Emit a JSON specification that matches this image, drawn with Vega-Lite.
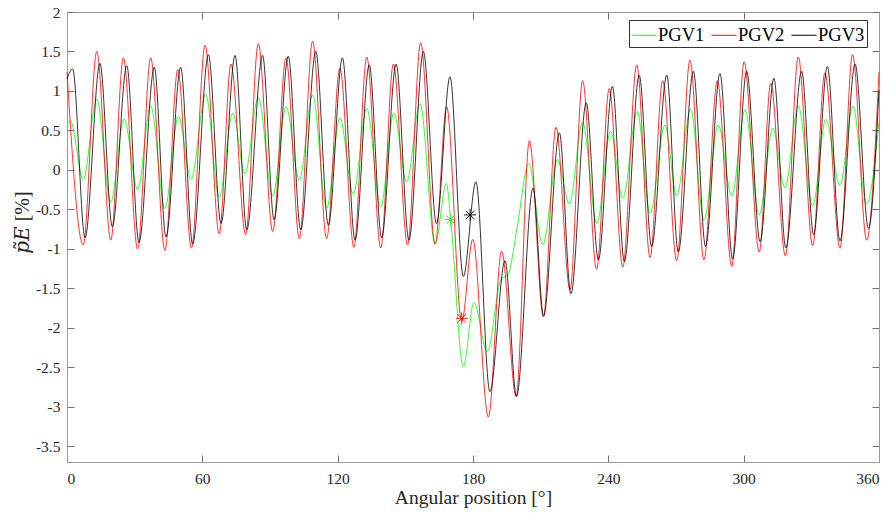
{
  "$schema": "https://vega.github.io/schema/vega-lite/v6.json",
  "width": 812,
  "height": 450,
  "autosize": "none",
  "padding": {"left": 67, "top": 12, "right": 17, "bottom": 51},
  "background": "white",
  "config": {
    "font": "'Liberation Serif', 'DejaVu Serif', serif",
    "view": {"stroke": "#9a9a9a", "strokeWidth": 1},
    "axis": {
      "domainColor": "#9a9a9a",
      "tickColor": "#707070",
      "tickSize": -7,
      "grid": false,
      "labelFont": "'Liberation Serif', 'DejaVu Serif', serif",
      "titleFont": "'Liberation Serif', 'DejaVu Serif', serif",
      "labelColor": "#262626",
      "titleColor": "#262626",
      "titleFontWeight": "normal"
    },
    "legend": {
      "labelFont": "'Liberation Serif', 'DejaVu Serif', serif"
    }
  },
  "datasets": {
    "curves": [
      {"s":"PGV1","x":0,"y":0.58},{"s":"PGV1","x":1.5,"y":0.62},{"s":"PGV1","x":7.2,"y":-0.12},{"s":"PGV1","x":13.2,"y":0.9},{"s":"PGV1","x":19.4,"y":-0.41},{"s":"PGV1","x":25.3,"y":0.65},{"s":"PGV1","x":31.3,"y":-0.25},{"s":"PGV1","x":37.1,"y":0.81},{"s":"PGV1","x":43.4,"y":-0.49},{"s":"PGV1","x":49.4,"y":0.68},{"s":"PGV1","x":55,"y":-0.12},{"s":"PGV1","x":61.5,"y":0.96},{"s":"PGV1","x":67.5,"y":-0.35},{"s":"PGV1","x":73.5,"y":0.72},{"s":"PGV1","x":78.9,"y":-0.05},{"s":"PGV1","x":84.8,"y":0.92},{"s":"PGV1","x":91.2,"y":-0.33},{"s":"PGV1","x":97.1,"y":0.8},{"s":"PGV1","x":103,"y":-0.13},{"s":"PGV1","x":108.9,"y":0.95},{"s":"PGV1","x":115.1,"y":-0.49},{"s":"PGV1","x":121,"y":0.66},{"s":"PGV1","x":126.9,"y":-0.31},{"s":"PGV1","x":132.9,"y":0.78},{"s":"PGV1","x":139.1,"y":-0.47},{"s":"PGV1","x":144.9,"y":0.72},{"s":"PGV1","x":150.6,"y":-0.15},{"s":"PGV1","x":156.5,"y":0.84},{"s":"PGV1","x":163.2,"y":-0.94},{"s":"PGV1","x":168.2,"y":-0.17},{"s":"PGV1","x":170.1,"y":-0.63},{"s":"PGV1","x":175.7,"y":-2.49},{"s":"PGV1","x":180.4,"y":-1.68},{"s":"PGV1","x":186.3,"y":-2.3},{"s":"PGV1","x":192.5,"y":-1.38},{"s":"PGV1","x":195.5,"y":-1.33},{"s":"PGV1","x":199.4,"y":-0.76},{"s":"PGV1","x":204.7,"y":0.08},{"s":"PGV1","x":210.9,"y":-0.95},{"s":"PGV1","x":217.4,"y":0.13},{"s":"PGV1","x":222.7,"y":-0.43},{"s":"PGV1","x":228.6,"y":0.6},{"s":"PGV1","x":234.9,"y":-0.68},{"s":"PGV1","x":241,"y":0.49},{"s":"PGV1","x":246.4,"y":-0.36},{"s":"PGV1","x":252.8,"y":0.74},{"s":"PGV1","x":258.5,"y":-0.55},{"s":"PGV1","x":265.1,"y":0.57},{"s":"PGV1","x":270.3,"y":-0.33},{"s":"PGV1","x":276.5,"y":0.77},{"s":"PGV1","x":282.4,"y":-0.64},{"s":"PGV1","x":288.7,"y":0.57},{"s":"PGV1","x":294.7,"y":-0.33},{"s":"PGV1","x":300.6,"y":0.76},{"s":"PGV1","x":306.9,"y":-0.57},{"s":"PGV1","x":312.9,"y":0.53},{"s":"PGV1","x":318.3,"y":-0.23},{"s":"PGV1","x":324.2,"y":0.81},{"s":"PGV1","x":330.6,"y":-0.46},{"s":"PGV1","x":336.4,"y":0.64},{"s":"PGV1","x":342.7,"y":-0.2},{"s":"PGV1","x":348.4,"y":0.81},{"s":"PGV1","x":354.5,"y":-0.43},{"s":"PGV1","x":360,"y":0.61},
      {"s":"PGV2","x":0,"y":1.24},{"s":"PGV2","x":7.2,"y":-0.95},{"s":"PGV2","x":13.2,"y":1.5},{"s":"PGV2","x":19.4,"y":-0.89},{"s":"PGV2","x":25,"y":1.42},{"s":"PGV2","x":31.3,"y":-1.0},{"s":"PGV2","x":37.1,"y":1.42},{"s":"PGV2","x":43.4,"y":-1.02},{"s":"PGV2","x":49.1,"y":1.27},{"s":"PGV2","x":55.2,"y":-0.99},{"s":"PGV2","x":61.2,"y":1.58},{"s":"PGV2","x":67.5,"y":-0.81},{"s":"PGV2","x":72.7,"y":1.34},{"s":"PGV2","x":79.2,"y":-0.82},{"s":"PGV2","x":84.8,"y":1.6},{"s":"PGV2","x":91.2,"y":-0.78},{"s":"PGV2","x":97.1,"y":1.42},{"s":"PGV2","x":103,"y":-0.87},{"s":"PGV2","x":108.9,"y":1.63},{"s":"PGV2","x":115.1,"y":-0.87},{"s":"PGV2","x":121,"y":1.29},{"s":"PGV2","x":127.2,"y":-0.98},{"s":"PGV2","x":132.9,"y":1.43},{"s":"PGV2","x":139.1,"y":-0.99},{"s":"PGV2","x":144.7,"y":1.34},{"s":"PGV2","x":151,"y":-0.95},{"s":"PGV2","x":156.8,"y":1.61},{"s":"PGV2","x":163.2,"y":-0.94},{"s":"PGV2","x":168.3,"y":0.8},{"s":"PGV2","x":175,"y":-1.92},{"s":"PGV2","x":179.9,"y":-0.88},{"s":"PGV2","x":186.8,"y":-3.13},{"s":"PGV2","x":192.7,"y":-1.03},{"s":"PGV2","x":199.1,"y":-2.87},{"s":"PGV2","x":205,"y":0.37},{"s":"PGV2","x":211.2,"y":-1.86},{"s":"PGV2","x":216.8,"y":0.54},{"s":"PGV2","x":223,"y":-1.52},{"s":"PGV2","x":228.6,"y":1.13},{"s":"PGV2","x":234.8,"y":-1.26},{"s":"PGV2","x":240.4,"y":1.03},{"s":"PGV2","x":246.4,"y":-1.23},{"s":"PGV2","x":252.6,"y":1.33},{"s":"PGV2","x":258.5,"y":-1.11},{"s":"PGV2","x":264.1,"y":1.13},{"s":"PGV2","x":270.3,"y":-1.15},{"s":"PGV2","x":276.2,"y":1.39},{"s":"PGV2","x":282.4,"y":-1.14},{"s":"PGV2","x":288.3,"y":1.13},{"s":"PGV2","x":294.7,"y":-1.22},{"s":"PGV2","x":300.2,"y":1.37},{"s":"PGV2","x":306.9,"y":-1.04},{"s":"PGV2","x":312,"y":1.1},{"s":"PGV2","x":318.5,"y":-1.09},{"s":"PGV2","x":324.2,"y":1.43},{"s":"PGV2","x":330.6,"y":-0.96},{"s":"PGV2","x":336,"y":1.23},{"s":"PGV2","x":342.7,"y":-0.99},{"s":"PGV2","x":348.3,"y":1.46},{"s":"PGV2","x":354.5,"y":-0.89},{"s":"PGV2","x":360,"y":1.24},
      {"s":"PGV3","x":0,"y":1.15},{"s":"PGV3","x":2.5,"y":1.28},{"s":"PGV3","x":8,"y":-0.86},{"s":"PGV3","x":14.6,"y":1.35},{"s":"PGV3","x":20.1,"y":-0.72},{"s":"PGV3","x":26.5,"y":1.32},{"s":"PGV3","x":31.9,"y":-0.92},{"s":"PGV3","x":38.7,"y":1.3},{"s":"PGV3","x":43.9,"y":-0.85},{"s":"PGV3","x":50.4,"y":1.3},{"s":"PGV3","x":55.7,"y":-0.94},{"s":"PGV3","x":62.7,"y":1.46},{"s":"PGV3","x":68.3,"y":-0.68},{"s":"PGV3","x":74.5,"y":1.45},{"s":"PGV3","x":79.7,"y":-0.76},{"s":"PGV3","x":86.7,"y":1.45},{"s":"PGV3","x":91.8,"y":-0.63},{"s":"PGV3","x":98.1,"y":1.44},{"s":"PGV3","x":103.6,"y":-0.76},{"s":"PGV3","x":110.3,"y":1.5},{"s":"PGV3","x":115.9,"y":-0.7},{"s":"PGV3","x":122.1,"y":1.42},{"s":"PGV3","x":127.7,"y":-0.89},{"s":"PGV3","x":134,"y":1.33},{"s":"PGV3","x":139.5,"y":-0.86},{"s":"PGV3","x":145.9,"y":1.34},{"s":"PGV3","x":151.6,"y":-0.89},{"s":"PGV3","x":158,"y":1.5},{"s":"PGV3","x":163.8,"y":-0.68},{"s":"PGV3","x":169.8,"y":1.18},{"s":"PGV3","x":175.7,"y":-1.35},{"s":"PGV3","x":181.3,"y":-0.15},{"s":"PGV3","x":187.5,"y":-2.81},{"s":"PGV3","x":194.2,"y":-1.15},{"s":"PGV3","x":199.3,"y":-2.87},{"s":"PGV3","x":206.6,"y":-0.23},{"s":"PGV3","x":211.3,"y":-1.85},{"s":"PGV3","x":218.3,"y":0.47},{"s":"PGV3","x":223.4,"y":-1.57},{"s":"PGV3","x":230.2,"y":0.85},{"s":"PGV3","x":235.6,"y":-1.14},{"s":"PGV3","x":241.8,"y":1.06},{"s":"PGV3","x":247.1,"y":-1.16},{"s":"PGV3","x":253.7,"y":1.2},{"s":"PGV3","x":259.2,"y":-0.97},{"s":"PGV3","x":265.9,"y":1.2},{"s":"PGV3","x":271,"y":-1.04},{"s":"PGV3","x":277.7,"y":1.25},{"s":"PGV3","x":283.1,"y":-0.97},{"s":"PGV3","x":289.5,"y":1.22},{"s":"PGV3","x":295.1,"y":-1.13},{"s":"PGV3","x":301.3,"y":1.25},{"s":"PGV3","x":307.3,"y":-0.91},{"s":"PGV3","x":313.4,"y":1.16},{"s":"PGV3","x":318.7,"y":-0.99},{"s":"PGV3","x":325.7,"y":1.25},{"s":"PGV3","x":331,"y":-0.82},{"s":"PGV3","x":337.1,"y":1.31},{"s":"PGV3","x":342.7,"y":-0.9},{"s":"PGV3","x":349.4,"y":1.34},{"s":"PGV3","x":355.3,"y":-0.74},{"s":"PGV3","x":360,"y":1.01}
    ],
    "stars": [
      {"s":"PGV1","x":170.1,"y":-0.63},
      {"s":"PGV2","x":175,"y":-1.88},
      {"s":"PGV3","x":178.7,"y":-0.57}
    ]
  },
  "layer": [
    {
      "data": {"name": "curves"},
      "mark": {"type": "line", "interpolate": "monotone", "strokeWidth": 0.8},
      "encoding": {
        "x": {"field": "x", "type": "quantitative", "scale": {"domain": [0, 360], "nice": false, "zero": false},
          "axis": {"orient": "bottom", "values": [0, 60, 120, 180, 240, 300, 360], "labelFont": "'Liberation Serif', 'DejaVu Serif', serif", "labelFontSize": 15.5, "labelPadding": 16, "title": "Angular position [°]", "titleFont": "'Liberation Serif', 'DejaVu Serif', serif", "titleFontSize": 19.5, "titleY": 35, "titleBaseline": "middle"}},
        "y": {"field": "y", "type": "quantitative", "scale": {"domain": [-3.7, 2], "nice": false, "zero": false},
          "axis": {"orient": "left", "values": [-3.5, -3, -2.5, -2, -1.5, -1, -0.5, 0, 0.5, 1, 1.5, 2], "labelExpr": "'' + datum.value", "labelFont": "'Liberation Serif', 'DejaVu Serif', serif", "labelFontSize": 15.5, "labelPadding": 14, "title": "𝑝̃𝐸 [%]", "titleFont": "'Liberation Serif', 'DejaVu Serif', serif", "titleFontSize": 20, "titleX": -45, "titleY": 210, "titleBaseline": "middle", "titleAlign": "center"}},
        "color": {"field": "s", "type": "nominal",
          "scale": {"domain": ["PGV1", "PGV2", "PGV3"], "range": ["#00ff00", "#ff0000", "#000000"]},
          "legend": {"title": null, "orient": "none", "legendX": 562, "legendY": 8, "direction": "horizontal",
            "symbolType": "stroke", "symbolSize": 625, "symbolStrokeWidth": 1, "labelFontSize": 18.5, "labelColor": "#000",
            "strokeColor": "#333", "fillColor": "white", "padding": 2, "columnPadding": 4, "labelOffset": 1}}
      }
    },
    {
      "data": {"name": "stars"},
      "mark": {"type": "point", "shape": "M-1,0L1,0M0,-1L0,1M-0.7,-0.7L0.7,0.7M-0.7,0.7L0.7,-0.7", "size": 144, "strokeWidth": 0.9, "filled": false, "opacity": 1},
      "encoding": {
        "x": {"field": "x", "type": "quantitative", "scale": {"domain": [0, 360], "nice": false, "zero": false}, "axis": null},
        "y": {"field": "y", "type": "quantitative", "scale": {"domain": [-3.7, 2], "nice": false, "zero": false}, "axis": null},
        "color": {"field": "s", "type": "nominal", "scale": {"domain": ["PGV1", "PGV2", "PGV3"], "range": ["#00ff00", "#ff0000", "#000000"]}, "legend": null}
      }
    },
    {
      "data": {"name": "stars"},
      "mark": {"type": "point", "opacity": 0},
      "encoding": {
        "x": {"field": "x", "type": "quantitative", "scale": {"domain": [0, 360], "nice": false, "zero": false},
          "axis": {"orient": "top", "values": [0, 60, 120, 180, 240, 300, 360], "labels": false, "title": null}},
        "y": {"field": "y", "type": "quantitative", "scale": {"domain": [-3.7, 2], "nice": false, "zero": false},
          "axis": {"orient": "right", "values": [-3.5, -3, -2.5, -2, -1.5, -1, -0.5, 0, 0.5, 1, 1.5, 2], "labels": false, "title": null}}
      }
    }
  ],
  "resolve": {"axis": {"x": "independent", "y": "independent"}}
}
